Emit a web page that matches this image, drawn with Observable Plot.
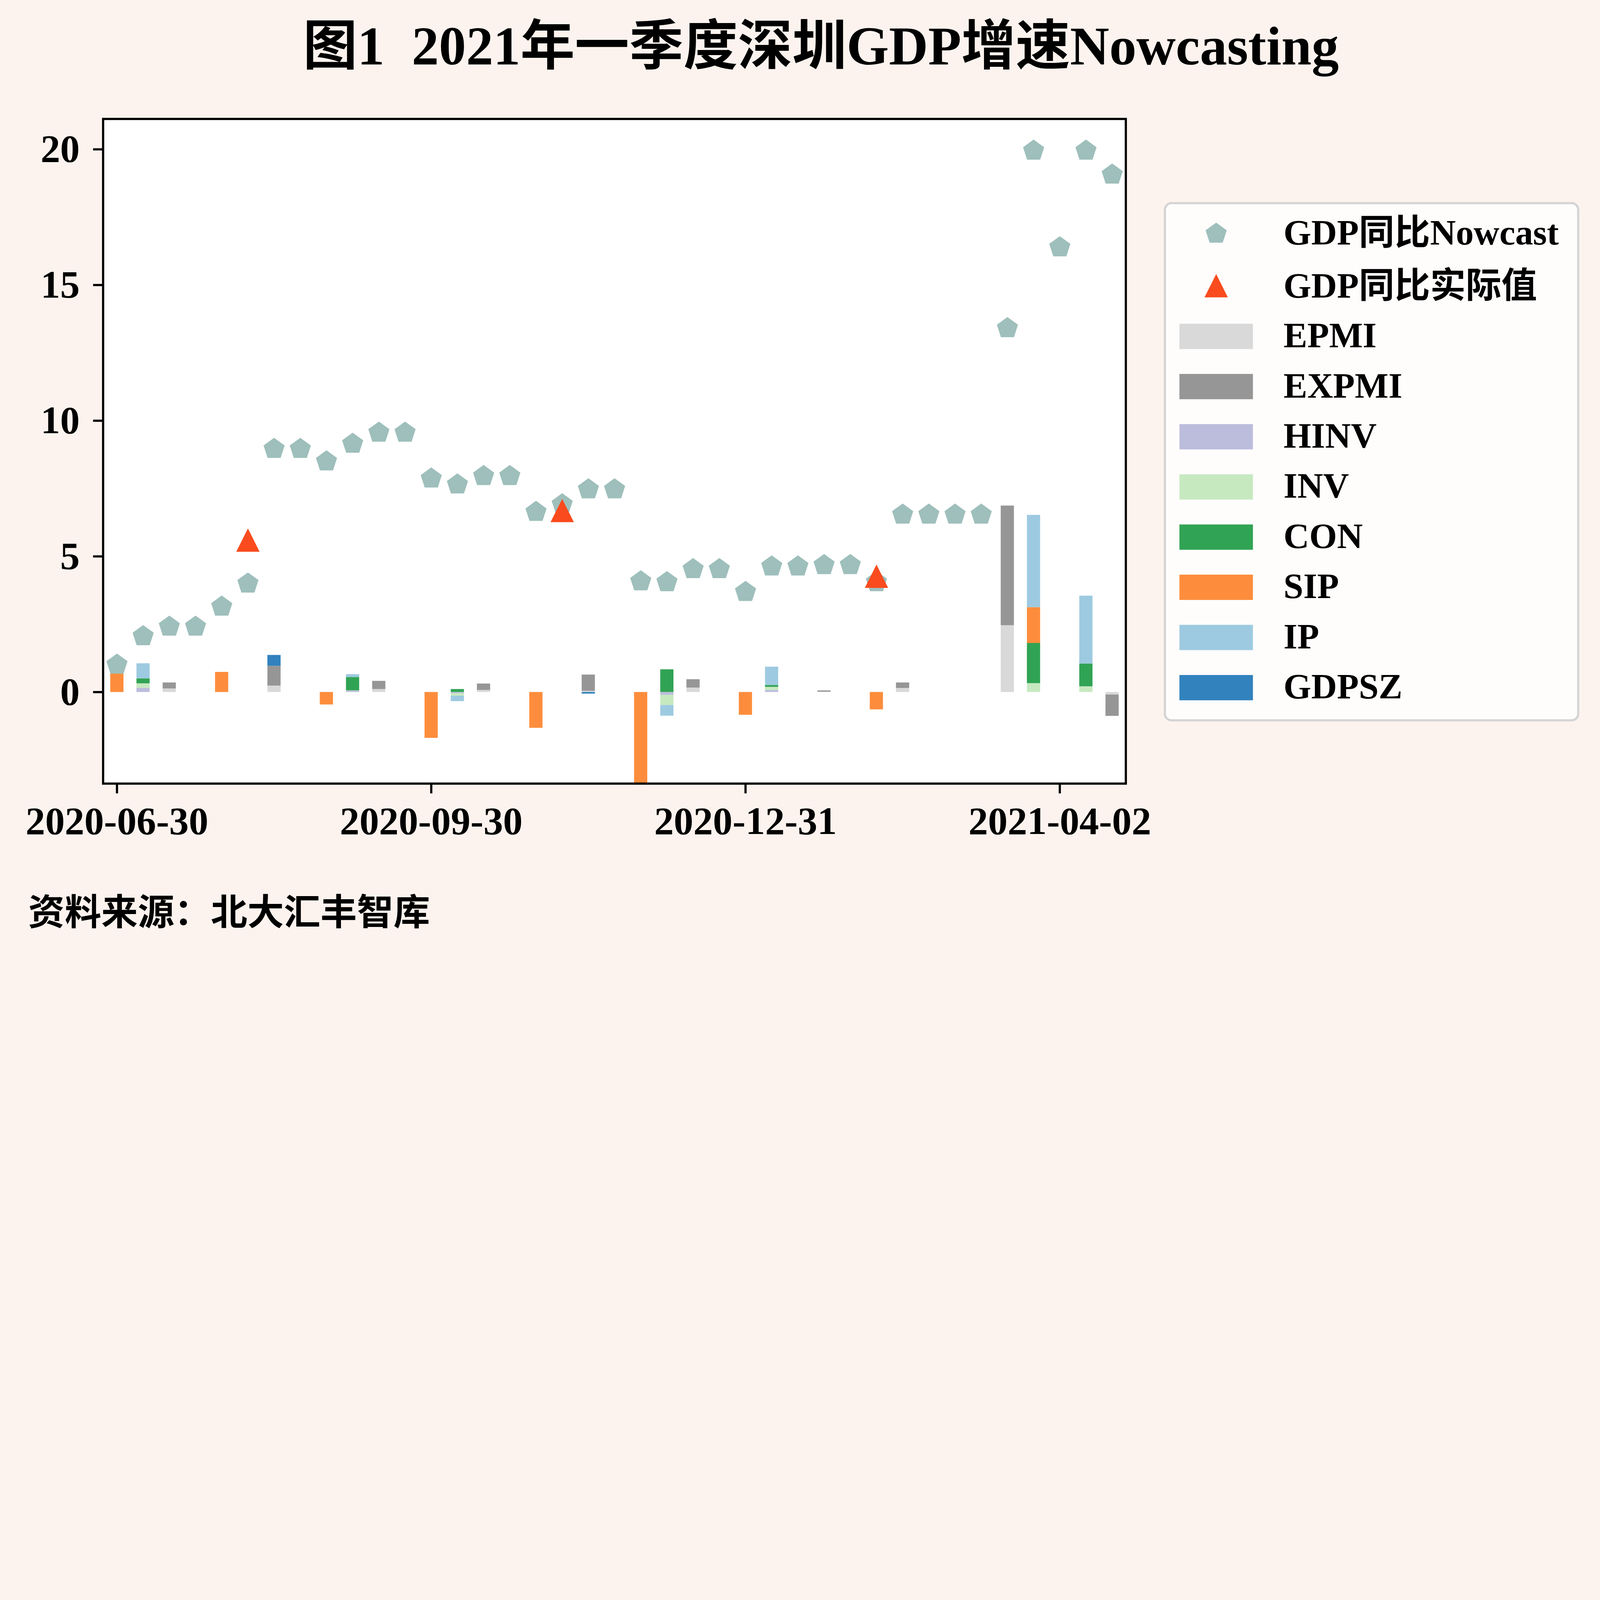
<!DOCTYPE html>
<html>
<head>
<meta charset="utf-8">
<script src="https://cdn.jsdelivr.net/npm/d3@7"></script>
<script src="https://cdn.jsdelivr.net/npm/@observablehq/plot@0.6"></script>
<style>
html, body { margin: 0; padding: 0; background: #fdf3ee; overflow: hidden; }
#wrap { position: relative; width: 7270px; height: 4325px; overflow: hidden; }
#page { position: absolute; left: 0; top: 0; width: 7270px; height: 4325px; overflow: hidden; background: #fdf3ee; transform-origin: 0 0; }
#chart { position: absolute; left: 0; top: 400px; }
#overlay { position: absolute; left: 0; top: 0; }
</style>
</head>
<body>
<div id="wrap">
<div id="page">
  <div id="chart"></div>
  <svg id="overlay" width="7270" height="4325"></svg>
</div>
</div>
<script>
// ---------------- data ----------------
const titleText = "图1  2021年一季度深圳GDP增速Nowcasting";
const sourceText = "资料来源：北大汇丰智库";

// 39 consecutive nowcast periods (index positions on the x axis)
const periods = Array.from({length: 39}, (_, i) => i);
const tickIndex = [0, 12, 24, 36];
const tickLabels = ["2020-06-30", "2020-09-30", "2020-12-31", "2021-04-02"];
const yTicks = [0, 5, 10, 15, 20];

const nowcast = [1.01, 2.06, 2.41, 2.41, 3.15, 4.00, 8.96, 8.96, 8.50, 9.15,
                 9.56, 9.56, 7.87, 7.65, 7.96, 7.96, 6.64, 6.92, 7.47, 7.47,
                 4.08, 4.05, 4.53, 4.53, 3.69, 4.63, 4.63, 4.68, 4.68, 4.05,
                 6.54, 6.54, 6.54, 6.54, 13.41, 19.95, 16.39, 19.95, 19.07];

const actual = [null, null, null, null, null, 5.60, null, null, null, null,
                null, null, null, null, null, null, null, 6.69, null, null,
                null, null, null, null, null, null, null, null, null, 4.27,
                null, null, null, null, null, null, null, null, null];

const seriesNames = ["EPMI", "EXPMI", "HINV", "INV", "CON", "SIP", "IP", "GDPSZ"];
const seriesColors = ["#d9d9d9", "#969696", "#bcbddc", "#c7e9c0", "#31a354", "#fd8d3c", "#9ecae1", "#3182bd"];

const EPMI  = [0, 0, 0.13, 0, 0, 0, 0.235, 0, 0, 0,
               0.11, 0, 0, 0, 0.076, 0, 0, 0, 0.043, 0,
               0, 0, 0.163, 0, 0, 0, 0, 0.011, 0, 0,
               0.148, 0, 0, 0, 2.46, 0, 0, 0, -0.094];
const EXPMI = [0, 0, 0.22, 0, 0, 0, 0.73, 0, 0, 0,
               0.30, 0, 0, 0, 0.235, 0, 0, 0, 0.60, 0,
               0, 0, 0.308, 0, 0, 0, 0, 0.047, 0, 0,
               0.203, 0, 0, 0, 4.41, 0, 0, 0, -0.786];
const HINV  = [0, 0.156, 0, 0, 0, 0, 0, 0, 0, 0.054,
               0, 0, 0, -0.047, 0, 0, 0, 0, 0, 0,
               0, -0.105, 0, 0, 0, 0.076, 0, 0, 0, 0,
               0, 0, 0, 0, 0, 0, 0, 0, 0];
const INV   = [0, 0.163, 0, 0, 0, 0, 0, 0, 0, 0.007,
               0, 0, 0, -0.09, 0, 0, 0, 0, 0, 0,
               0, -0.373, 0, 0, 0, 0.112, 0, 0, 0, 0,
               0, 0, 0, 0, 0, 0.326, 0, 0.21, 0];
const CON   = [0, 0.185, 0, 0, 0, 0, 0, 0, 0, 0.49,
               0, 0, 0, 0.109, 0, 0, 0, 0, 0, 0,
               0, 0.836, 0, 0, 0, 0.072, 0, 0, 0, 0,
               0, 0, 0, 0, 0, 1.48, 0, 0.84, 0];
const SIP   = [0.70, 0, 0, 0, 0.74, 0, 0, 0, -0.46, 0,
               0, 0, -1.69, 0, 0, 0, -1.32, 0, 0, 0,
               -3.6, 0, 0, 0, -0.84, 0, 0, 0, 0, -0.64,
               0, 0, 0, 0, 0, 1.32, 0, 0, 0];
const IP    = [0, 0.554, 0, 0, 0, 0, 0, 0, 0, 0.105,
               0, 0, 0, -0.20, 0, 0, 0, 0, 0, 0,
               0, -0.395, 0, 0, 0, 0.673, 0, 0, 0, 0,
               0, 0, 0, 0, 0, 3.40, 0, 2.50, 0];
const GDPSZ = [0, 0, 0, 0, 0, 0, 0.40, 0, 0, 0,
               0, 0, 0, 0, 0, 0, 0, 0, -0.06, 0,
               0, 0, 0, 0, 0, 0, 0, 0, 0, 0,
               0, 0, 0, 0, 0, 0, 0, 0, 0];
const seriesValues = [EPMI, EXPMI, HINV, INV, CON, SIP, IP, GDPSZ];

const legendLabels = ["GDP同比Nowcast", "GDP同比实际值"];
const nowcastColor = "#9ebfbb";
const actualColor = "#f94b1e";

// ---------------- fit page to window ----------------
const wrap = document.getElementById("wrap");
const page = document.getElementById("page");
function fit() {
  const w = window.innerWidth || document.documentElement.clientWidth || 7270;
  const s = w / 7270;
  page.style.transform = `scale(${s})`;
  wrap.style.width = (7270 * s) + "px";
  wrap.style.height = (4325 * s) + "px";
}
fit();
window.addEventListener("resize", fit);

// ---------------- build ----------------
const rows = [];
seriesNames.forEach((name, k) => {
  seriesValues[k].forEach((v, i) => { if (v !== 0) rows.push({i, series: name, value: v}); });
});
const nowRows = periods.map(i => ({i, value: nowcast[i]}));
const actRows = periods.filter(i => actual[i] != null).map(i => ({i, value: actual[i]}));

const pentagon = {
  draw(ctx, size) {
    const R = Math.sqrt(size / Math.PI);
    for (let k = 0; k < 5; k++) {
      const a = -Math.PI / 2 + k * 2 * Math.PI / 5;
      const x = R * Math.cos(a), y = R * Math.sin(a);
      if (k === 0) ctx.moveTo(x, y); else ctx.lineTo(x, y);
    }
    ctx.closePath();
  }
};
const triangle = {
  draw(ctx, size) {
    const h = Math.sqrt(size / Math.PI);
    ctx.moveTo(0, -h);
    ctx.lineTo(h, h);
    ctx.lineTo(-h, h);
    ctx.closePath();
  }
};

const FONT = "'Liberation Serif', 'Noto Sans CJK SC', serif";

const chart = Plot.plot({
  width: 5300,
  height: 3550,
  marginLeft: 468,
  marginRight: 185,
  marginTop: 140,
  marginBottom: 390,
  style: {background: "transparent", fontFamily: FONT, fontSize: "178px", fontWeight: "bold", color: "black", overflow: "visible"},
  x: {type: "band", domain: periods, paddingInner: 0.5, paddingOuter: 0.25, align: 0.5, axis: null},
  y: {domain: [-3.372, 21.12], axis: null},
  color: {domain: seriesNames, range: seriesColors},
  marks: [
    Plot.frame({fill: "white", stroke: null}),
    Plot.barY(rows, Plot.stackY({x: "i", y: "value", fill: "series", clip: true})),
    Plot.dot(nowRows, {x: "i", y: "value", symbol: pentagon, r: 50.5, fill: nowcastColor, stroke: "none", clip: true}),
    Plot.dot(actRows, {x: "i", y: "value", symbol: triangle, r: 53, fill: actualColor, stroke: "none", clip: true}),
    Plot.frame({stroke: "black", strokeWidth: 10, fill: "none"}),
    Plot.axisX({ticks: tickIndex, tickFormat: d => tickLabels[tickIndex.indexOf(d)], tickSize: 45, tickPadding: 58, strokeWidth: 10, label: null}),
    Plot.axisY({ticks: yTicks, tickSize: 45, tickPadding: 61, strokeWidth: 10, label: null})
  ]
});
document.getElementById("chart").appendChild(chart);

// ---------------- title, legend, caption ----------------
const ov = d3.select("#overlay").style("font-family", FONT).style("font-weight", "bold");

ov.append("text").attr("x", 3730).attr("y", 292).attr("text-anchor", "middle")
  .attr("font-size", 247).attr("fill", "black").style("white-space", "pre").text(titleText);

ov.append("text").attr("x", 128).attr("y", 4203).attr("font-size", 166)
  .attr("fill", "black").text(sourceText);

// legend
const lg = ov.append("g");
lg.append("rect").attr("x", 5293).attr("y", 923).attr("width", 1878).attr("height", 2350)
  .attr("rx", 30).attr("fill", "rgba(255,255,255,0.8)").attr("stroke", "#d4d4d4").attr("stroke-width", 10);

const textX = 5832, markX = 5526;
const pent = d3.path(); pentagon.draw(pent, 50.5 * 50.5 * Math.PI);
lg.append("path").attr("d", pent.toString()).attr("transform", `translate(${markX},1062)`).attr("fill", nowcastColor);
lg.append("text").attr("x", textX).attr("y", 1111).attr("font-size", 162).text(legendLabels[0]);
const tri = d3.path(); triangle.draw(tri, 53 * 53 * Math.PI);
lg.append("path").attr("d", tri.toString()).attr("transform", `translate(${markX},1298)`).attr("fill", actualColor);
lg.append("text").attr("x", textX).attr("y", 1352).attr("font-size", 162).text(legendLabels[1]);

seriesNames.forEach((name, k) => {
  const base = 1578 + 228 * k;
  lg.append("rect").attr("x", 5359).attr("y", base - 107).attr("width", 334).attr("height", 115)
    .attr("fill", seriesColors[k]);
  lg.append("text").attr("x", textX).attr("y", base).attr("font-size", 162).text(name);
});
</script>
</body>
</html>
